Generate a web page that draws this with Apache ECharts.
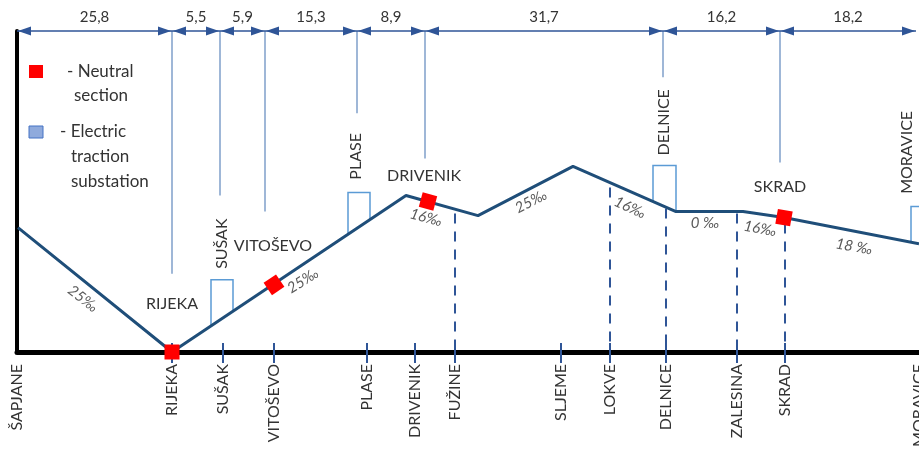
<!DOCTYPE html>
<html><head><meta charset="utf-8">
<style>html,body{margin:0;padding:0;background:#fff}#c{width:919px;height:453px}</style>
<script src="https://cdn.jsdelivr.net/npm/echarts@6.0.0/dist/echarts.min.js"></script>
</head><body><div id="c"></div><script>
// Schematic units: x = diagram position along the line, y = relative elevation (not to scale)
const stationNames = ['ŠAPJANE','RIJEKA','SUŠAK','VITOŠEVO','PLASE','DRIVENIK','FUŽINE','SLJEME','LOKVE','DELNICE','ZALESINA','SKRAD','MORAVICE'];
const stationPos   = [0, 155, 206, 257, 350, 398, 438, 544, 593, 649, 720, 768, 902];
const tickPos      = [155, 206, 257, 350, 398, 438, 544, 593, 649, 720, 768];

const sectionBounds  = [0, 155, 203, 248, 340, 408, 646, 763, 899];
const sectionLengths = ['25,8','5,5','5,9','15,3','8,9','31,7','16,2','18,2'];
const dropLineX      = [155, 203, 248, 340, 408, 646, 763];
const dropLineBottom = [78, 156, 140, 238, 193, 274, 189];

const profileX = [1, 155, 389, 461, 556, 659, 726, 767, 902];
const profileY = [124, 0, 156, 136, 185, 140, 140, 134, 108];

const neutralX   = [155, 257, 411, 767];
const neutralY   = [0, 67, 150, 134];
const neutralRot = [0, 34, -15, -10];

const substationLeft  = [194, 331, 636, 894];
const substationRight = [216, 353, 659, 915];
const substationTop   = [72, 159, 186, 145];

const dashedX   = [438, 593, 649, 720, 768];
const dashedTop = [138, 164, 143, 138, 128];

const nameLabels   = ['RIJEKA','SUŠAK','VITOŠEVO','PLASE','DRIVENIK','DELNICE','SKRAD','MORAVICE'];
const nameX        = [155, 205, 256, 339, 407, 647, 763, 890];
const nameY        = [48, 108, 106, 195, 176, 229, 165, 199];
const nameVertical = [0, 1, 0, 1, 0, 1, 0, 1];

const gradeLabels = ['25‰','25‰','16‰','25‰','16‰','0 ‰','16‰','18 ‰'];
const gradeX      = [66, 286, 409, 514, 613, 688, 743, 837];
const gradeY      = [53, 71, 134, 150, 144, 128, 123, 105];
const gradeRot    = [-38, 32, -15, 27, -25, 0, -10, -10];

const Y_TOP = 320;
const FONT = 'Lato, "Open Sans", sans-serif';
const TXT = '#333333';
const NAVY = '#1f4e79';
const DIM = '#2f5597';
const THIN = '#7f9fca';

function profileAt(x) {
  for (let i = 0; i < profileX.length - 1; i++) {
    if (x >= profileX[i] && x <= profileX[i + 1]) {
      const t = (x - profileX[i]) / (profileX[i + 1] - profileX[i]);
      return profileY[i] + t * (profileY[i + 1] - profileY[i]);
    }
  }
  return profileY[profileY.length - 1];
}

const chart = echarts.init(document.getElementById('c'), null, {renderer: 'canvas'});
const option = {
  animation: false,
  grid: {left: 17, right: 0, top: 31, bottom: 101, containLabel: false, outerBoundsMode: 'none'},
  xAxis: {
    type: 'value', min: 0, max: 902,
    axisLine: {show: true, lineStyle: {color: '#000', width: 5}},
    axisTick: {show: false},
    splitLine: {show: false},
    axisLabel: {
      customValues: stationPos, rotate: 90, margin: 12,
      color: TXT, fontFamily: FONT, fontSize: 16,
      showMinLabel: true, showMaxLabel: true, hideOverlap: false,
      formatter: v => stationNames[stationPos.indexOf(v)]
    }
  },
  yAxis: {
    type: 'value', min: 0, max: Y_TOP,
    axisLine: {show: true, lineStyle: {color: '#000', width: 4}},
    axisTick: {show: false}, axisLabel: {show: false}, splitLine: {show: false}
  },
  graphic: [
    {type: 'rect', shape: {x: 29, y: 65, width: 14, height: 13}, style: {fill: '#ff0000'}},
    {type: 'text', x: 67, y: 72, style: {text: '- Neutral', fill: TXT, font: '17px ' + FONT, verticalAlign: 'middle'}},
    {type: 'text', x: 74, y: 96, style: {text: 'section', fill: TXT, font: '17px ' + FONT, verticalAlign: 'middle'}},
    {type: 'rect', shape: {x: 29, y: 126, width: 14, height: 12}, style: {fill: '#8faadc', stroke: '#4472c4', lineWidth: 1}},
    {type: 'text', x: 60, y: 132, style: {text: '- Electric', fill: TXT, font: '17px ' + FONT, verticalAlign: 'middle'}},
    {type: 'text', x: 71, y: 157, style: {text: 'traction', fill: TXT, font: '17px ' + FONT, verticalAlign: 'middle'}},
    {type: 'text', x: 71, y: 182, style: {text: 'substation', fill: TXT, font: '17px ' + FONT, verticalAlign: 'middle'}}
  ],
  series: [
    {
      type: 'custom', clip: false, z: 1,
      data: dropLineX.map((x, i) => [x, dropLineBottom[i]]),
      renderItem: (params, api) => {
        const a = api.coord([api.value(0), Y_TOP]);
        const b = api.coord([api.value(0), api.value(1)]);
        return {type: 'line', shape: {x1: a[0], y1: a[1], x2: b[0], y2: b[1]}, style: {stroke: THIN, lineWidth: 1.5}};
      }
    },
    {
      type: 'custom', clip: false, z: 3,
      data: sectionLengths.map((s, i) => [sectionBounds[i], Y_TOP, sectionBounds[i + 1], i]),
      renderItem: (params, api) => {
        const p1 = api.coord([api.value(0), Y_TOP]);
        const p2 = api.coord([api.value(2), Y_TOP]);
        const y = p1[1], L = 13, h = 4.5;
        return {type: 'group', children: [
          {type: 'line', shape: {x1: p1[0], y1: y, x2: p2[0], y2: y}, style: {stroke: DIM, lineWidth: 1.5}},
          {type: 'polygon', shape: {points: [[p1[0] + 1, y], [p1[0] + 1 + L, y - h], [p1[0] + 1 + L, y + h]]}, style: {fill: DIM}},
          {type: 'polygon', shape: {points: [[p2[0] - 1, y], [p2[0] - 1 - L, y - h], [p2[0] - 1 - L, y + h]]}, style: {fill: DIM}},
          {type: 'text', x: (p1[0] + p2[0]) / 2, y: y - 14, style: {text: sectionLengths[api.value(3)], fill: TXT, font: '15px ' + FONT, align: 'center', verticalAlign: 'middle'}}
        ]};
      }
    },
    {
      type: 'custom', clip: false, z: 1,
      data: dashedX.map((x, i) => [x, dashedTop[i]]),
      renderItem: (params, api) => {
        const a = api.coord([api.value(0), api.value(1)]);
        const b = api.coord([api.value(0), 0]);
        return {type: 'line', shape: {x1: a[0], y1: a[1], x2: b[0], y2: b[1]}, style: {stroke: DIM, lineWidth: 2, lineDash: [10, 8]}};
      }
    },
    {
      type: 'custom', clip: false, z: 4,
      data: tickPos.map(x => [x, 0]),
      renderItem: (params, api) => {
        const a = api.coord([api.value(0), 0]);
        return {type: 'line', shape: {x1: a[0], y1: a[1] - 9, x2: a[0], y2: a[1] + 11}, style: {stroke: DIM, lineWidth: 2}};
      }
    },
    {
      type: 'custom', clip: false, z: 2,
      data: substationLeft.map((l, i) => [l, substationTop[i], substationRight[i]]),
      renderItem: (params, api) => {
        const l = api.value(0), t = api.value(1), r = api.value(2);
        const pts = [[l, profileAt(l)], [l, t], [r, t], [r, profileAt(r)]].map(p => api.coord(p));
        return {type: 'polyline', shape: {points: pts}, style: {stroke: '#5b9bd5', lineWidth: 1.5, fill: null}};
      }
    },
    {
      type: 'line', z: 5, symbol: 'none',
      data: profileX.map((x, i) => [x, profileY[i]]),
      lineStyle: {color: NAVY, width: 3}
    },
    {
      type: 'scatter', z: 6, symbol: 'rect', symbolSize: 15,
      itemStyle: {color: '#ff0000', opacity: 1},
      data: neutralX.map((x, i) => ({value: [x, neutralY[i]], symbolRotate: neutralRot[i]}))
    },
    {
      type: 'custom', clip: false, z: 7,
      data: nameLabels.map((n, i) => [nameX[i], nameY[i], i]),
      renderItem: (params, api) => {
        const p = api.coord([api.value(0), api.value(1)]);
        const i = api.value(2);
        return {type: 'text', x: p[0], y: p[1], rotation: nameVertical[i] ? Math.PI / 2 : 0,
          style: {text: nameLabels[i], fill: TXT, font: '16px ' + FONT, align: 'center', verticalAlign: 'middle'}};
      }
    },
    {
      type: 'custom', clip: false, z: 7,
      data: gradeLabels.map((g, i) => [gradeX[i], gradeY[i], i]),
      renderItem: (params, api) => {
        const p = api.coord([api.value(0), api.value(1)]);
        const i = api.value(2);
        return {type: 'text', x: p[0], y: p[1], rotation: gradeRot[i] * Math.PI / 180,
          style: {text: gradeLabels[i], fill: '#595959', font: 'italic 15px ' + FONT, align: 'center', verticalAlign: 'middle'}};
      }
    }
  ]
};
chart.setOption(option);
</script></body></html>
